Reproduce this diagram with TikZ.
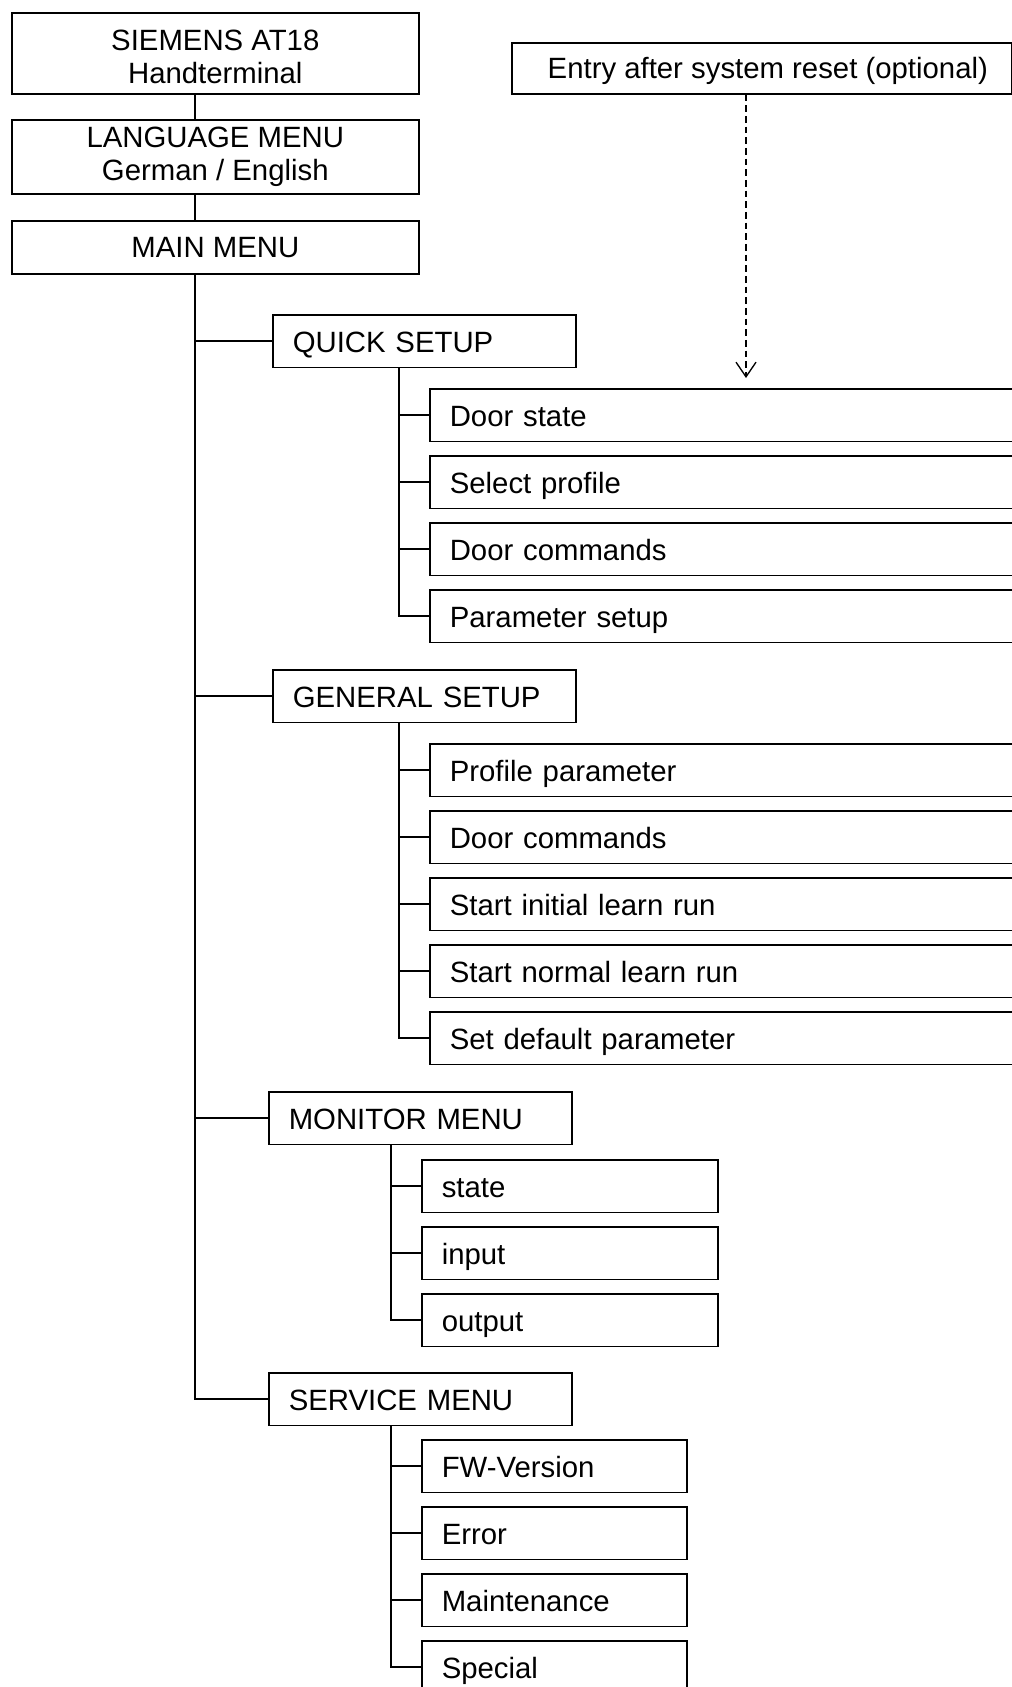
\documentclass[tikz,border=0pt]{standalone}
\usepackage{fontspec}
\setmainfont{Liberation Sans}
\usetikzlibrary{arrows.meta}

\begin{document}
\begin{tikzpicture}[x=0.75pt,y=-0.75pt,font=\fontsize{22}{25}\selectfont]
    \useasboundingbox (0,0) rectangle (1012,1687);
    \clip (0,0) rectangle (1012,1687);
    \tikzstyle{menubox} = [draw,line width=1.2pt,anchor=north west,align=center,inner sep=0pt,minimum width=305.25pt]
    \tikzstyle{groupbox} = [draw,line width=1.2pt,anchor=north west,align=left,inner xsep=15pt,inner ysep=0pt,text width=197.25pt,text height=22pt,text depth=4.5pt,minimum height=39.5pt]
    \tikzstyle{itembox} = [draw,line width=1.2pt,anchor=north west,align=left,inner xsep=15pt,inner ysep=0pt,text height=22pt,text depth=4.5pt,minimum height=39.5pt]
    \tikzstyle{link} = [line width=1.2pt]
    \tikzstyle{resetlink} = [line width=1pt,dash pattern=on 5pt off 3pt,-{Straight Barb[length=11pt,width=15pt]},shorten >=7.5pt]
    \coordinate (trunk) at (195,0);
    \coordinate (qtrunk) at (399,0);
    \coordinate (gtrunk) at (399,0);
    \coordinate (mtrunk) at (391,0);
    \coordinate (strunk) at (391,0);
    \coordinate (resetx) at (746,0);
    \node[menubox,minimum height=60.75pt] (siemens) at (11,12) {\rule{0pt}{20.5pt}SIEMENS AT18\\Handterminal};
    \node[menubox,minimum height=55.5pt] (language) at (11,119) {LANGUAGE MENU\\German / English};
    \node[menubox,minimum height=39.75pt] (mainmenu) at (11,220) {MAIN MENU};
    \node[menubox,minimum width=375pt,minimum height=38.25pt,text height=20pt,text depth=4.5pt] (reset) at (511,42) {\hspace*{9pt}Entry after system reset (optional)};
    \node[groupbox] (quick) at (272,314) {QUICK SETUP};
    \node[groupbox] (general) at (272,669) {GENERAL SETUP};
    \node[groupbox] (monitor) at (268,1091) {MONITOR MENU};
    \node[groupbox] (service) at (268,1372) {SERVICE MENU};
    \begin{scope}[every node/.append style={text width=428pt}]
        \node[itembox] (qstate) at (429,388) {Door state};
        \node[itembox] (qprofile) at (429,455) {Select profile};
        \node[itembox] (qcommands) at (429,522) {Door commands};
        \node[itembox] (qparam) at (429,589) {Parameter setup};
        \node[itembox] (gprofile) at (429,743) {Profile parameter};
        \node[itembox] (gcommands) at (429,810) {Door commands};
        \node[itembox] (ginitial) at (429,877) {Start initial learn run};
        \node[itembox] (gnormal) at (429,944) {Start normal learn run};
        \node[itembox] (gdefault) at (429,1011) {Set default parameter};
    \end{scope}
    \node[itembox,text width=192pt] (mstate) at (421,1159) {state};
    \node[itembox,text width=192pt] (minput) at (421,1226) {input};
    \node[itembox,text width=192pt] (moutput) at (421,1293) {output};
    \node[itembox,text width=168.75pt] (sversion) at (421,1439) {FW-Version};
    \node[itembox,text width=168.75pt] (serror) at (421,1506) {Error};
    \node[itembox,text width=168.75pt] (smaint) at (421,1573) {Maintenance};
    \node[itembox,text width=168.75pt] (sspecial) at (421,1640) {Special};
    \draw[link] (siemens.south -| trunk) -- (language.north -| trunk);
    \draw[link] (language.south -| trunk) -- (mainmenu.north -| trunk);
    \draw[link] (mainmenu.south -| trunk) |- (service.west);
    \draw[link] (trunk |- quick.west) -- (quick.west);
    \draw[link] (trunk |- general.west) -- (general.west);
    \draw[link] (trunk |- monitor.west) -- (monitor.west);
    \draw[link] (quick.south -| qtrunk) |- (qparam.west);
    \draw[link] (qtrunk |- qstate.west) -- (qstate.west);
    \draw[link] (qtrunk |- qprofile.west) -- (qprofile.west);
    \draw[link] (qtrunk |- qcommands.west) -- (qcommands.west);
    \draw[link] (general.south -| gtrunk) |- (gdefault.west);
    \draw[link] (gtrunk |- gprofile.west) -- (gprofile.west);
    \draw[link] (gtrunk |- gcommands.west) -- (gcommands.west);
    \draw[link] (gtrunk |- ginitial.west) -- (ginitial.west);
    \draw[link] (gtrunk |- gnormal.west) -- (gnormal.west);
    \draw[link] (monitor.south -| mtrunk) |- (moutput.west);
    \draw[link] (mtrunk |- mstate.west) -- (mstate.west);
    \draw[link] (mtrunk |- minput.west) -- (minput.west);
    \draw[link] (service.south -| strunk) |- (sspecial.west);
    \draw[link] (strunk |- sversion.west) -- (sversion.west);
    \draw[link] (strunk |- serror.west) -- (serror.west);
    \draw[link] (strunk |- smaint.west) -- (smaint.west);
    \draw[resetlink] (reset.south -| resetx) -- (qstate.north -| resetx);
\end{tikzpicture}
\end{document}
